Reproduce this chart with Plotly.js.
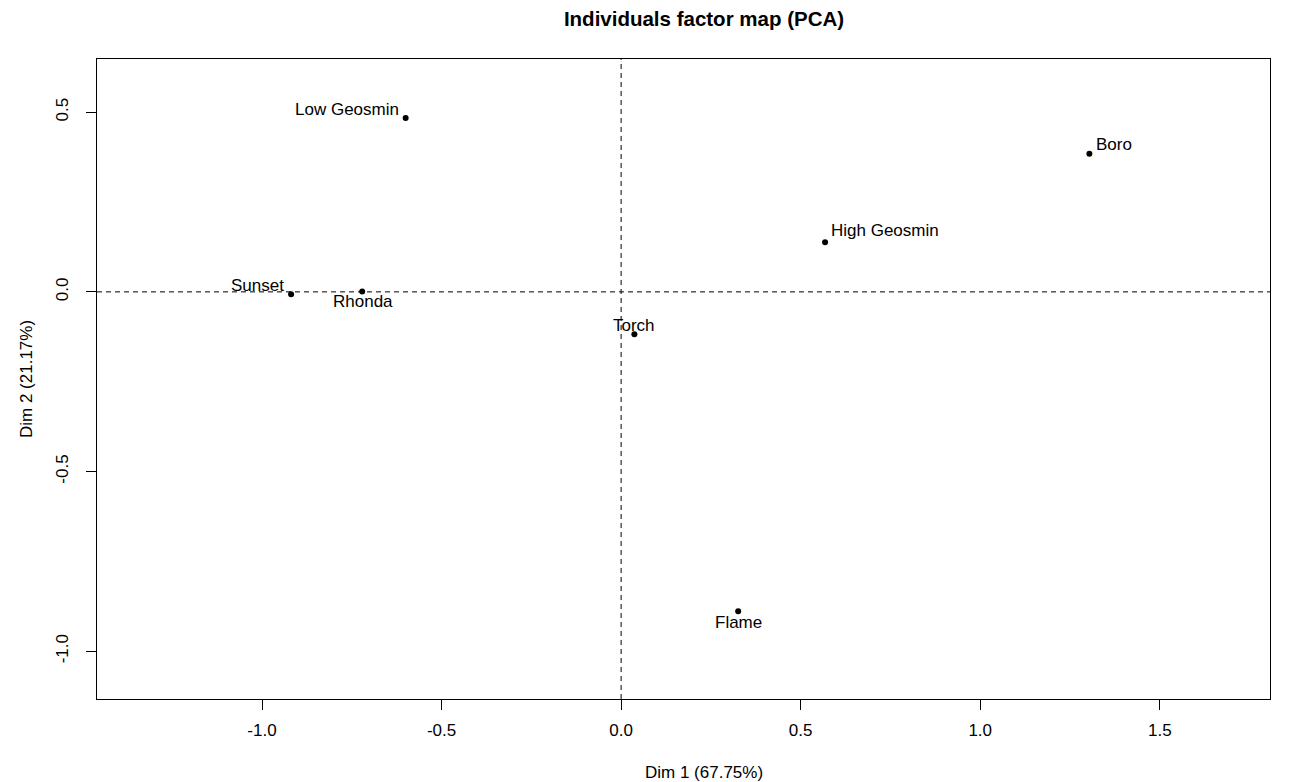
<!DOCTYPE html>
<html>
<head>
<meta charset="utf-8">
<script src="https://cdn.plot.ly/plotly-3.0.1.min.js"></script>
<style>html,body{margin:0;padding:0;background:#fff;}#chart{width:1298px;height:782px;}</style>
</head>
<body>
<div id="chart"></div>
<script>
// Data
const names = ["Low Geosmin", "Boro", "High Geosmin", "Sunset", "Rhonda", "Torch", "Flame"];
const dim1 = [-0.600, 1.304, 0.568, -0.919, -0.721, 0.037, 0.326];
const dim2 = [0.484, 0.384, 0.138, -0.007, 0.001, -0.118, -0.889];
const xTicks = [-1, -0.5, 0, 0.5, 1, 1.5];
const xTickText = ["-1.0", "-0.5", "0.0", "0.5", "1.0", "1.5"];
const yTicks = [-1, -0.5, 0, 0.5];
const yTickText = ["-1.0", "-0.5", "0.0", "0.5"];
const titleText = "Individuals factor map (PCA)";
const xLabel = "Dim 1 (67.75%)";
const yLabel = "Dim 2 (21.17%)";

// Label placement (pixel offsets, anchors) – layout only
const labelStyle = [
  {xanchor: "right", xshift: -5, yshift: 8},
  {xanchor: "left", xshift: 5, yshift: 9},
  {xanchor: "left", xshift: 4, yshift: 12},
  {xanchor: "right", xshift: -5, yshift: 9},
  {xanchor: "center", xshift: 0.5, yshift: -10},
  {xanchor: "center", xshift: 0, yshift: 9},
  {xanchor: "center", xshift: 0, yshift: -11}
];

const font = "Liberation Sans, Arial, Helvetica, sans-serif";
const FS = 17;

const trace = {
  x: dim1, y: dim2, mode: "markers", type: "scatter",
  marker: {color: "#000", size: 6},
  hoverinfo: "text", text: names, showlegend: false
};

const annotations = names.map((n, i) => Object.assign({
  x: dim1[i], y: dim2[i], xref: "x", yref: "y", text: n, showarrow: false,
  yanchor: "middle", font: {family: font, size: FS, color: "#000"}
}, labelStyle[i]));

// axis titles (R centres them slightly right of the plot centre in this figure)
annotations.push({
  text: xLabel, xref: "paper", yref: "paper", x: (704 - 97) / 1173, y: (699 - 772) / 640,
  xanchor: "center", yanchor: "middle", showarrow: false,
  font: {family: font, size: FS, color: "#000"}
});
annotations.push({
  text: yLabel, xref: "paper", yref: "paper", x: (26 - 97) / 1173, y: 0.5,
  xanchor: "center", yanchor: "middle", showarrow: false, textangle: -90,
  font: {family: font, size: FS, color: "#000"}
});

const layout = {
  width: 1298, height: 782,
  margin: {l: 97, r: 28, t: 59, b: 83},
  paper_bgcolor: "#fff", plot_bgcolor: "#fff",
  font: {family: font, size: FS, color: "#000"},
  title: {text: "<b>" + titleText + "</b>", font: {family: font, size: 20.5, color: "#000"},
          x: (704 - 97) / 1173, xref: "paper", xanchor: "center",
          y: 1 - 19 / 782, yref: "container", yanchor: "middle"},
  xaxis: {
    range: [-1.4595, 1.807], tickvals: xTicks, ticktext: xTickText,
    showgrid: false, zeroline: false, showline: true, mirror: true,
    linecolor: "#000", linewidth: 1, ticks: "outside", ticklen: 10, tickcolor: "#000",
    tickfont: {family: font, size: FS, color: "#000"}, ticklabelstandoff: 6
  },
  yaxis: {
    range: [-1.133, 0.648], tickvals: yTicks, ticktext: yTickText, tickangle: -90,
    showgrid: false, zeroline: false, showline: true, mirror: true,
    linecolor: "#000", linewidth: 1, ticks: "outside", ticklen: 10, tickcolor: "#000",
    tickfont: {family: font, size: FS, color: "#000"}, ticklabelstandoff: 11
  },
  shapes: [
    {type: "line", xref: "x", yref: "paper", x0: 0, x1: 0, y0: 0, y1: 1,
     line: {color: "#000", width: 1, dash: "5px,4px"}},
    {type: "line", xref: "paper", yref: "y", x0: 0, x1: 1, y0: 0, y1: 0,
     line: {color: "#000", width: 1, dash: "5px,4px"}}
  ],
  annotations: annotations
};

Plotly.newPlot("chart", [trace], layout, {displayModeBar: false, staticPlot: true});
</script>
</body>
</html>
